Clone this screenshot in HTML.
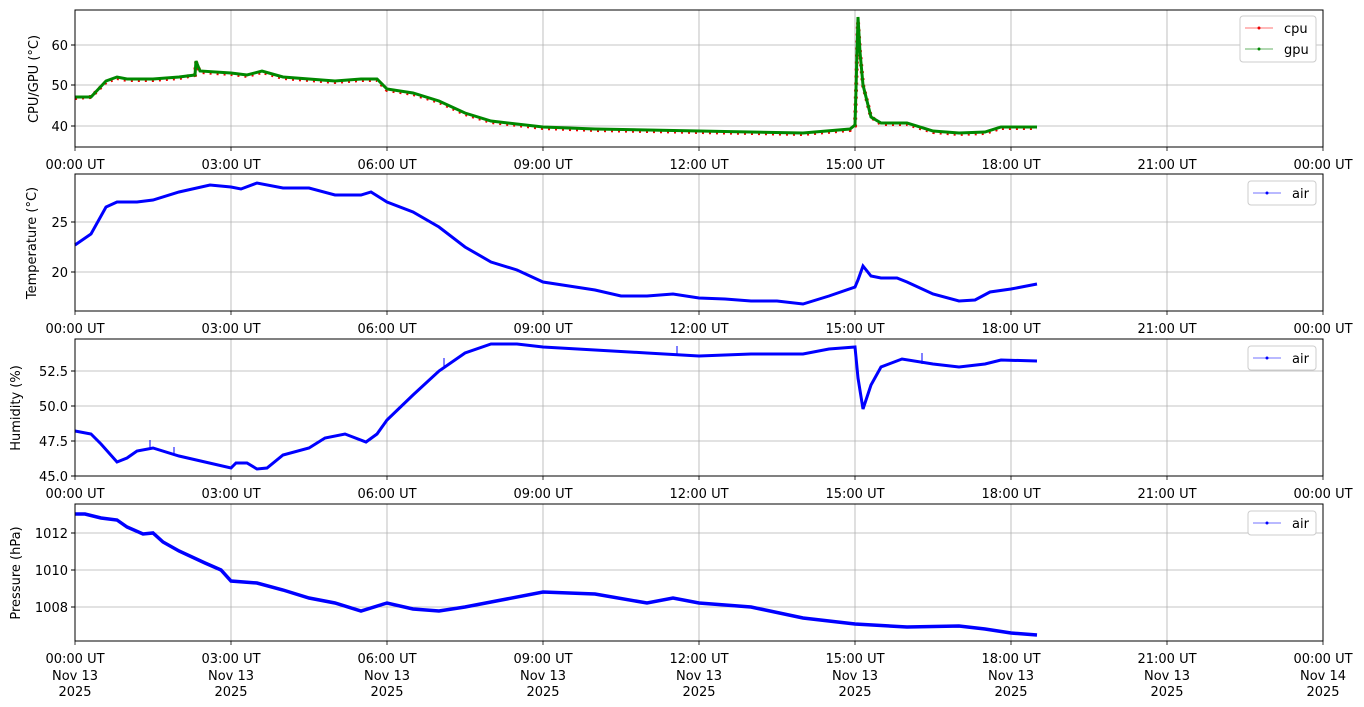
<!DOCTYPE html>
<html><head><meta charset="utf-8"><style>
body{margin:0;background:#fff}
svg{display:block;font-family:"DejaVu Sans","Liberation Sans",sans-serif}
.t{font-size:13px;fill:#000}
.g{stroke:#b0b0b0;stroke-width:0.8}
</style></head><body>
<svg width="1364" height="707" viewBox="0 0 1364 707">
<defs>
<g id="vg">
<line class="g" x1="231" y1="0" x2="231" y2="137"/><line class="g" x1="387" y1="0" x2="387" y2="137"/>
<line class="g" x1="543" y1="0" x2="543" y2="137"/><line class="g" x1="699" y1="0" x2="699" y2="137"/>
<line class="g" x1="855" y1="0" x2="855" y2="137"/><line class="g" x1="1011" y1="0" x2="1011" y2="137"/>
<line class="g" x1="1167" y1="0" x2="1167" y2="137"/>
</g>
<g id="xt">
<g stroke="#000" stroke-width="0.8">
<line x1="75" y1="137" x2="75" y2="141"/><line x1="231" y1="137" x2="231" y2="141"/><line x1="387" y1="137" x2="387" y2="141"/><line x1="543" y1="137" x2="543" y2="141"/><line x1="699" y1="137" x2="699" y2="141"/><line x1="855" y1="137" x2="855" y2="141"/><line x1="1011" y1="137" x2="1011" y2="141"/><line x1="1167" y1="137" x2="1167" y2="141"/><line x1="1323" y1="137" x2="1323" y2="141"/>
</g>
<g class="t" text-anchor="middle">
<text x="75" y="159">00:00 UT</text><text x="231" y="159">03:00 UT</text><text x="387" y="159">06:00 UT</text><text x="543" y="159">09:00 UT</text><text x="699" y="159">12:00 UT</text><text x="855" y="159">15:00 UT</text><text x="1011" y="159">18:00 UT</text><text x="1167" y="159">21:00 UT</text><text x="1323" y="159">00:00 UT</text>
</g>
</g>
</defs>

<!-- Panel 1 -->
<g transform="translate(0,10)"><use href="#vg"/><use href="#xt"/></g>
<line class="g" x1="75" y1="45" x2="1323" y2="45"/><line class="g" x1="75" y1="85" x2="1323" y2="85"/><line class="g" x1="75" y1="126" x2="1323" y2="126"/>
<polyline fill="none" stroke="#e00" stroke-width="4" stroke-dasharray="2 5" points="75,98 91,97 106,82 117,78 127,80 153,80 179,78 195,75 196,62 200,72 231,74 247,76 262,72 283,78 335,82 361,80 377,80 387,90 413,94 439,102 465,114 491,122 543,128 595,130 699,132 803,134 850,130 855,126 858,22 860,52 863,85 871,117 881,124 907,124 933,132 959,134 985,133 1001,128 1037,128"/>
<polyline fill="none" stroke="#080" stroke-width="3" points="75,97 91,97 106,81 117,77 127,79 153,79 179,77 195,75 196,61 200,71 231,73 247,75 262,71 283,77 335,81 361,79 377,79 387,89 413,93 439,101 465,113 491,121 543,127 595,129 699,131 803,133 850,129 855,125 858,17 860,52 863,85 871,117 881,123 907,123 933,131 959,133 985,132 1001,127 1037,127"/>
<rect x="75" y="10" width="1248" height="137" fill="none" stroke="#000" stroke-width="1"/>
<g class="t" text-anchor="end"><text x="68" y="50">60</text><text x="68" y="90">50</text><text x="68" y="131">40</text></g>
<g stroke="#000"><line x1="71" y1="45" x2="75" y2="45"/><line x1="71" y1="85" x2="75" y2="85"/><line x1="71" y1="126" x2="75" y2="126"/></g>
<text class="t" transform="translate(38,79) rotate(-90)" text-anchor="middle">CPU/GPU (°C)</text>
<rect x="1240" y="16" width="76" height="46" rx="3" fill="#fff" stroke="#ccc"/>
<line x1="1245" y1="28" x2="1273" y2="28" stroke="#f44" stroke-width="0.8"/><circle cx="1259" cy="28" r="1.5" fill="#e00"/>
<line x1="1245" y1="49" x2="1273" y2="49" stroke="#393" stroke-width="0.8"/><circle cx="1259" cy="49" r="1.5" fill="#080"/>
<text class="t" x="1284" y="33">cpu</text><text class="t" x="1284" y="54">gpu</text>

<!-- Panel 2 -->
<g transform="translate(0,174)"><use href="#vg"/><use href="#xt"/></g>
<line class="g" x1="75" y1="222" x2="1323" y2="222"/><line class="g" x1="75" y1="272" x2="1323" y2="272"/>
<polyline fill="none" stroke="#00f" stroke-width="3" points="75,245 91,234 106,207 117,202 137,202 153,200 179,192 210,185 231,187 241,189 257,183 283,188 309,188 335,195 361,195 371,192 387,202 413,212 439,227 465,247 491,262 517,270 543,282 569,286 595,290 621,296 647,296 673,294 699,298 725,299 751,301 777,301 803,304 829,296 855,287 858,280 863,266 871,276 881,278 897,278 907,282 933,294 959,301 975,300 990,292 1011,289 1037,284"/>
<rect x="75" y="174" width="1248" height="137" fill="none" stroke="#000"/>
<g class="t" text-anchor="end"><text x="68" y="227">25</text><text x="68" y="277">20</text></g>
<g stroke="#000"><line x1="71" y1="222" x2="75" y2="222"/><line x1="71" y1="272" x2="75" y2="272"/></g>
<text class="t" transform="translate(36,243) rotate(-90)" text-anchor="middle">Temperature (°C)</text>
<rect x="1248" y="181" width="68" height="24" rx="3" fill="#fff" stroke="#ccc"/>
<line x1="1253" y1="193" x2="1281" y2="193" stroke="#44f" stroke-width="0.8"/><circle cx="1267" cy="193" r="1.5" fill="#00f"/>
<text class="t" x="1292" y="198">air</text>

<!-- Panel 3 -->
<g transform="translate(0,339)"><use href="#vg"/><use href="#xt"/></g>
<line class="g" x1="75" y1="371" x2="1323" y2="371"/><line class="g" x1="75" y1="406" x2="1323" y2="406"/><line class="g" x1="75" y1="441" x2="1323" y2="441"/>
<polyline fill="none" stroke="#00f" stroke-width="3" points="75,431 91,434 101,444 117,462 127,458 137,451 153,448 179,456 205,462 231,468 236,463 247,463 257,469 267,468 283,455 309,448 325,438 345,434 366,442 377,434 387,420 413,395 439,371 465,353 491,344 517,344 543,347 595,350 647,353 699,356 751,354 803,354 829,349 855,347 858,378 863,409 871,385 881,367 902,359 933,364 959,367 985,364 1001,360 1037,361"/>
<g stroke="#00f" stroke-width="1"><line x1="150" y1="448" x2="150" y2="440"/><line x1="174" y1="455" x2="174" y2="447"/><line x1="444" y1="368" x2="444" y2="358"/><line x1="677" y1="355" x2="677" y2="346"/><line x1="922" y1="364" x2="922" y2="353"/></g>
<rect x="75" y="339" width="1248" height="137" fill="none" stroke="#000"/>
<g class="t" text-anchor="end"><text x="68" y="376">52.5</text><text x="68" y="411">50.0</text><text x="68" y="446">47.5</text><text x="68" y="481">45.0</text></g>
<g stroke="#000"><line x1="71" y1="371" x2="75" y2="371"/><line x1="71" y1="406" x2="75" y2="406"/><line x1="71" y1="441" x2="75" y2="441"/><line x1="71" y1="476" x2="75" y2="476"/></g>
<text class="t" transform="translate(20,408) rotate(-90)" text-anchor="middle">Humidity (%)</text>
<rect x="1248" y="346" width="68" height="24" rx="3" fill="#fff" stroke="#ccc"/>
<line x1="1253" y1="358" x2="1281" y2="358" stroke="#44f" stroke-width="0.8"/><circle cx="1267" cy="358" r="1.5" fill="#00f"/>
<text class="t" x="1292" y="363">air</text>

<!-- Panel 4 -->
<g transform="translate(0,504)"><use href="#vg"/><use href="#xt"/></g>
<line class="g" x1="75" y1="533" x2="1323" y2="533"/><line class="g" x1="75" y1="570" x2="1323" y2="570"/><line class="g" x1="75" y1="607" x2="1323" y2="607"/>
<polyline fill="none" stroke="#00f" stroke-width="3.5" points="75,514 85,514 101,518 117,520 127,527 143,534 153,533 163,542 179,551 205,563 221,570 231,581 257,583 283,590 309,598 335,603 361,611 387,603 413,609 439,611 465,607 491,602 543,592 595,594 647,603 673,598 699,603 751,607 803,618 855,624 907,627 959,626 985,629 1011,633 1037,635"/>
<rect x="75" y="504" width="1248" height="137" fill="none" stroke="#000"/>
<g class="t" text-anchor="end"><text x="68" y="538">1012</text><text x="68" y="575">1010</text><text x="68" y="612">1008</text></g>
<g stroke="#000"><line x1="71" y1="533" x2="75" y2="533"/><line x1="71" y1="570" x2="75" y2="570"/><line x1="71" y1="607" x2="75" y2="607"/></g>
<text class="t" transform="translate(20,573) rotate(-90)" text-anchor="middle">Pressure (hPa)</text>
<rect x="1248" y="511" width="68" height="24" rx="3" fill="#fff" stroke="#ccc"/>
<line x1="1253" y1="523" x2="1281" y2="523" stroke="#44f" stroke-width="0.8"/><circle cx="1267" cy="523" r="1.5" fill="#00f"/>
<text class="t" x="1292" y="528">air</text>
<g class="t" text-anchor="middle">
<text x="75" y="680">Nov 13</text><text x="231" y="680">Nov 13</text><text x="387" y="680">Nov 13</text><text x="543" y="680">Nov 13</text><text x="699" y="680">Nov 13</text><text x="855" y="680">Nov 13</text><text x="1011" y="680">Nov 13</text><text x="1167" y="680">Nov 13</text><text x="1323" y="680">Nov 14</text>
<text x="75" y="696">2025</text><text x="231" y="696">2025</text><text x="387" y="696">2025</text><text x="543" y="696">2025</text><text x="699" y="696">2025</text><text x="855" y="696">2025</text><text x="1011" y="696">2025</text><text x="1167" y="696">2025</text><text x="1323" y="696">2025</text>
</g>
</svg>
</body></html>
